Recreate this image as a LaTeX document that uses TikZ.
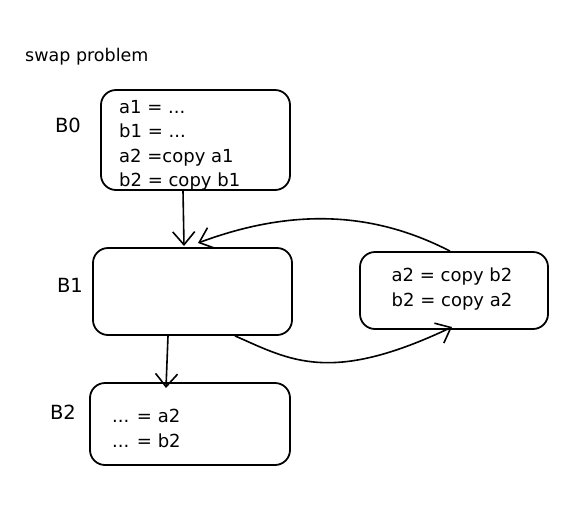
\documentclass[tikz,border=0pt]{standalone}
\usepackage{fontspec}
\setmainfont{DejaVu Sans}
\usetikzlibrary{arrows.meta}
\begin{document}
\begin{tikzpicture}[x=1pt,y=-1pt,
  blk/.style={draw,line width=1.8pt,rounded corners=15pt},
  lbl/.style={font=\fontsize{19.5}{20}\selectfont,inner sep=0pt},
  code/.style={font=\fontsize{18}{24.5}\selectfont,align=left,inner sep=0pt,anchor=north west},
  edge/.style={line width=1.6pt,-{Straight Barb[length=13pt,width=22pt,line width=1.6pt]}}]
\useasboundingbox (0,0) rectangle (575,504);
\node[lbl,font=\fontsize{17.5}{18}\selectfont,anchor=west] (title) at (25,57) {swap problem};
% B0
\node[blk,minimum width=189pt,minimum height=100pt] (b0) at (195.5,140) {};
\node[code] (b0t) at (119,100) {a1 = ...\\b1 = ...\\a2 =copy a1\\b2 = copy b1};
\node[lbl] (b0l) at (68,125) {B0};
% B1
\node[blk,minimum width=199pt,minimum height=87pt] (b1) at (192.5,291.5) {};
\node[lbl] (b1l) at (70,285) {B1};
% right block
\node[blk,minimum width=188pt,minimum height=77pt] (r) at (454,290.5) {};
\node[code,align=center,anchor=center] (rt) at (452,289) {a2 = copy b2\\b2 = copy a2};
% B2
\node[blk,minimum width=200pt,minimum height=82pt] (b2) at (190,424) {};
\node[code] (b2t) at (112,409) {... = a2\\... = b2};
\node[lbl] (b2l) at (63,412) {B2};
% edges
\draw[edge] (b0.south -| 183,0) -- (184,246);
\draw[edge] (b1.south -| 168,0) -- (166,388);
\draw[edge] (r.north -| 450,0) .. controls (380,215) and (300,205) .. (198,243);
\draw[edge] (b1.south -| 235,0) .. controls (290,360) and (330,385) .. (452,327);
\end{tikzpicture}
\end{document}
